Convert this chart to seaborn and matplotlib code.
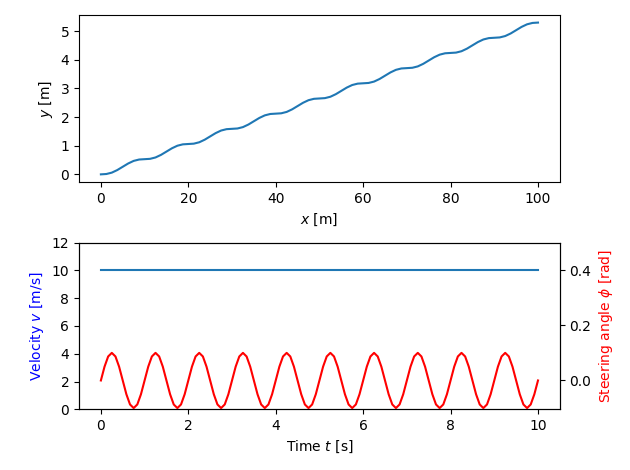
import matplotlib
matplotlib.use("Agg")
import matplotlib.pyplot as plt
import seaborn as sns
import pandas as pd

# trajectory, one 10 m cycle sampled every 1.25 m (y rise within the cycle)
cycle_x = [0.0, 1.25, 2.5, 3.75, 5.0, 6.25, 7.5, 8.75]
cycle_y = [0.0, 0.012, 0.06, 0.15, 0.265, 0.38, 0.47, 0.518]
cycle_rise = 0.53
n_cycles = 10

# steering angle over one 1 s period, sampled every 1/12 s
phi_cycle = [0.0, 0.05, 0.087, 0.1, 0.087, 0.05, 0.0, -0.05, -0.087, -0.1, -0.087, -0.05]
velocity_t = [0.0, 10.0]
velocity_v = [10.0, 10.0]

x_vals, y_vals = [], []
for k in range(n_cycles):
    x_vals += [10 * k + cx for cx in cycle_x]
    y_vals += [cycle_rise * k + cy for cy in cycle_y]
x_vals.append(100.0)
y_vals.append(cycle_rise * n_cycles)
traj = pd.DataFrame({"x": x_vals, "y": y_vals})

phi_vals = phi_cycle * n_cycles + [0.0]
steer = pd.DataFrame({"t": [i / 12 for i in range(len(phi_vals))], "phi": phi_vals})
vel = pd.DataFrame({"t": velocity_t, "v": velocity_v})

fig, ax = plt.subplots(nrows=2, ncols=1, figsize=(6.3, 4.7), dpi=100)

sns.lineplot(data=traj, x="x", y="y", ax=ax[0])
ax[0].set_xlabel("$x$ [m]")
ax[0].set_ylabel("$y$ [m]")

sns.lineplot(data=vel, x="t", y="v", ax=ax[1])
ax[1].set_ylim(0, 12)
ax[1].set_xlabel("Time $t$ [s]")
ax[1].set_ylabel("Velocity $v$ [m/s]", color="blue")

ax2 = ax[1].twinx()
sns.lineplot(data=steer, x="t", y="phi", color="red", ax=ax2)
ax2.set_ylim(-0.105, 0.5)
ax2.set_yticks([0.0, 0.2, 0.4])
ax2.set_ylabel("Steering angle $\\phi$ [rad]", color="red")

fig.tight_layout()
fig.savefig("out.png")
